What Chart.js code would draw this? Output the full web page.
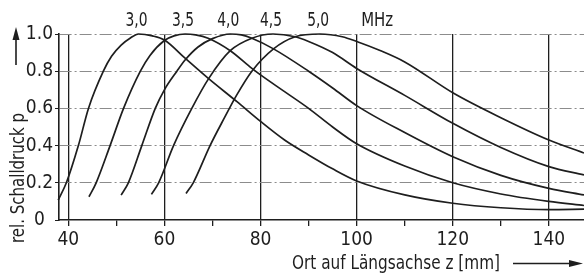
<!DOCTYPE html>
<html>
<head>
<meta charset="utf-8">
<script src="https://cdn.jsdelivr.net/npm/chart.js@4.4.0/dist/chart.umd.min.js"></script>
<style>
html, body { margin: 0; padding: 0; background: #fff; }
</style>
</head>
<body>
<canvas id="c" width="584" height="274"></canvas>
<script>
// Ort auf Laengsachse z [mm] and rel. Schalldruck p, one pair per frequency
let z30 = [37.9, 39.6, 42.1, 44.2, 47.3, 49, 51, 53, 54.6, 57.5, 60, 64.3, 69.2, 75.1, 80, 85, 90, 95, 100, 110, 120, 130, 140, 147.3];
let p30 = [0.107, 0.2, 0.4, 0.6, 0.8, 0.88, 0.94, 0.98, 1.0, 0.99, 0.968, 0.87, 0.76, 0.636, 0.53, 0.43, 0.35, 0.275, 0.21, 0.135, 0.09, 0.066, 0.056, 0.058];
let z35 = [44.3, 45.8, 48.7, 51.5, 55, 57, 60, 62, 64.3, 66.5, 69.1, 73.7, 78.2, 80, 85, 90, 95, 100, 110, 120, 130, 140, 147.3];
let p35 = [0.125, 0.2, 0.4, 0.6, 0.8, 0.885, 0.965, 0.99, 1.0, 0.995, 0.977, 0.91, 0.815, 0.78, 0.69, 0.6, 0.5, 0.41, 0.29, 0.2, 0.14, 0.1, 0.078];
let z40 = [51, 52.5, 55.3, 58.1, 60, 62.6, 64.3, 67, 70, 73.7, 76, 78.2, 82.7, 90, 95, 100, 110, 120, 130, 140, 147.3];
let p40 = [0.134, 0.2, 0.4, 0.6, 0.7, 0.8, 0.86, 0.93, 0.975, 1.0, 0.995, 0.977, 0.92, 0.8, 0.71, 0.615, 0.47, 0.34, 0.24, 0.17, 0.135];
let z45 = [57.3, 58.8, 61.9, 65.7, 69.2, 73.7, 78.2, 82.6, 87.2, 90, 95, 100, 110, 120, 130, 140, 147.3];
let p45 = [0.138, 0.2, 0.4, 0.6, 0.76, 0.91, 0.977, 1.0, 0.985, 0.96, 0.9, 0.815, 0.67, 0.52, 0.39, 0.287, 0.242];
let z50 = [64.5, 66, 69.5, 72.5, 75, 78.2, 82.7, 87.2, 92.4, 97, 100, 105, 110, 120, 130, 140, 147.3];
let p50 = [0.143, 0.2, 0.4, 0.55, 0.67, 0.8, 0.92, 0.985, 1.0, 0.985, 0.96, 0.91, 0.85, 0.684, 0.55, 0.43, 0.36];
let freqs = ['3,0', '3,5', '4,0', '4,5', '5,0'];
let xTitle = 'Ort auf Längsachse z [mm]';
let yTitle = 'rel. Schalldruck p';

const ink = '#1e1e1e';
const fam = "'DejaVu Sans', 'Liberation Sans', sans-serif";
Chart.defaults.font.family = fam;
Chart.defaults.font.size = 19;
Chart.defaults.font.weight = 'condensed';
Chart.defaults.color = ink;

function pts(zs, ps) {
    return zs.map((v, i) => ({x: v, y: ps[i]}));
}
function curve(zs, ps) {
    return {
        data: pts(zs, ps),
        borderColor: ink,
        borderWidth: 1.7,
        pointRadius: 0,
        fill: false,
        cubicInterpolationMode: 'monotone',
        clip: 6
    };
}

// text squeezed to the width it has in the figure
function fitText(ctx, txt, x, y, w, align) {
    let m = ctx.measureText(txt).width;
    let k = Math.min(1, w / m);
    ctx.save();
    ctx.translate(x, y);
    ctx.scale(k, 1);
    ctx.textAlign = align;
    ctx.fillText(txt, 0, 0);
    ctx.restore();
}

// frequency labels over the peaks, axis titles and arrows
const extras = {
    id: 'extras',
    afterDraw(chart) {
        const ctx = chart.ctx;
        const xs = chart.scales.x;
        ctx.save();
        ctx.fillStyle = ink;
        ctx.strokeStyle = ink;
        ctx.font = 'condensed 20px ' + fam;
        ctx.textBaseline = 'middle';
        let last = 0;
        chart.data.datasets.forEach((ds, i) => {
            let top = ds.data.reduce((a, b) => b.y > a.y ? b : a);
            last = xs.getPixelForValue(top.x);
            fitText(ctx, freqs[i], last - 2, 21, 22, 'center');
        });
        fitText(ctx, 'MHz', last + 57, 21, 32, 'center');

        ctx.save();
        ctx.translate(19, 178);
        ctx.rotate(-Math.PI / 2);
        fitText(ctx, yTitle, 0, 0, 130, 'center');
        ctx.restore();

        fitText(ctx, xTitle, 292, 264, 208, 'left');

        ctx.lineWidth = 1.6;
        ctx.beginPath();
        ctx.moveTo(16, 65); ctx.lineTo(16, 36);
        ctx.moveTo(513, 263.5); ctx.lineTo(572, 263.5);
        ctx.stroke();
        ctx.beginPath();
        ctx.moveTo(16, 27); ctx.lineTo(12.5, 40); ctx.lineTo(19.5, 40); ctx.closePath();
        ctx.fill();
        ctx.beginPath();
        ctx.moveTo(583, 263.5); ctx.lineTo(569, 260); ctx.lineTo(569, 267); ctx.closePath();
        ctx.fill();
        ctx.restore();
    }
};

new Chart(document.getElementById('c'), {
    type: 'line',
    data: {
        datasets: [curve(z30, p30), curve(z35, p35), curve(z40, p40), curve(z45, p45), curve(z50, p50)]
    },
    options: {
        responsive: false,
        animation: false,
        layout: { padding: { top: 34, right: 0, left: 0, bottom: 0 } },
        plugins: { legend: { display: false }, tooltip: { enabled: false } },
        scales: {
            x: {
                type: 'linear',
                min: 38.07,
                max: 147.3,
                afterFit: s => { s.height = 54; },
                ticks: {
                    stepSize: 10,
                    includeBounds: false,
                    maxRotation: 0,
                    autoSkip: false,
                    padding: 3,
                    callback: v => (v % 20 === 0 ? v : '')
                },
                grid: {
                    color: c => (c.tick && c.tick.value % 20 === 0 ? ink : 'rgba(0,0,0,0)'),
                    tickColor: ink,
                    tickLength: 6,
                    lineWidth: 1.3
                },
                border: { color: ink, width: 1.6 }
            },
            y: {
                min: 0,
                max: 1,
                afterFit: s => { s.width = 59; },
                ticks: {
                    stepSize: 0.2,
                    crossAlign: 'center',
                    padding: 2,
                    callback: v => (Math.abs(v) < 1e-9 ? '0' : v.toFixed(1))
                },
                grid: {
                    color: c => (c.tick && c.tick.value < 0.01 ? 'rgba(0,0,0,0)' : '#8c8c8c'),
                    tickColor: ink,
                    tickLength: 4,
                    lineWidth: 1
                },
                border: { color: ink, width: 1.6, dash: [12, 3, 2, 3] }
            }
        }
    },
    plugins: [extras]
});
</script>
</body>
</html>
